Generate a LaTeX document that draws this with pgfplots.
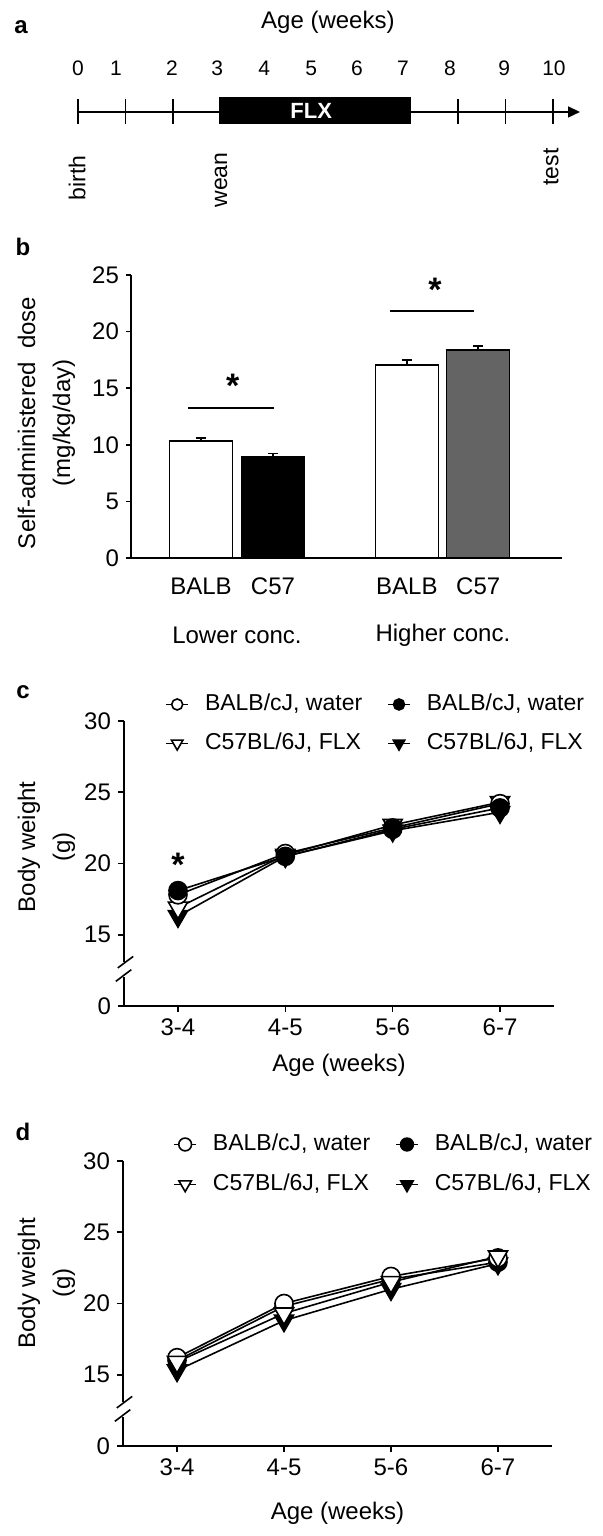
\documentclass[border=0pt]{standalone}
\usepackage{fontspec}
\setmainfont{Liberation Sans}
\usepackage{pgfplots}
\pgfplotsset{compat=1.18}
\usetikzlibrary{arrows.meta}
\definecolor{bargray}{RGB}{100,100,100}
\pgfplotsset{
  mylegend/.style={
    legend columns=2,
    legend style={draw=none, fill=none, inner sep=0pt, anchor=north west,
      cells={anchor=west}, nodes={inner sep=1pt, text height=8.5pt, text depth=2.5pt},
      font=\fontsize{11.5}{13}\selectfont,
      /tikz/every odd column/.append style={column sep=7pt},
      /tikz/every even column/.append style={column sep=11.5pt}},
    legend image code/.code={\draw[mark repeat=2,mark phase=2,##1] plot coordinates {(0pt,0pt)(5.5pt,0pt)(11pt,0pt)};}
  },
  lineaxis/.style={
    scale only axis, anchor=south west, clip=false,
    ymin=10, ymax=30, ytick={10,15,20,25,30}, yticklabels={0,15,20,25,30},
    xtick={1,2,3,4}, xticklabels={3-4,4-5,5-6,6-7},
    axis x line*=bottom, axis y line*=left,
    x axis line style={-, line width=0.8pt},
    y axis line style={draw=none},
    tick align=outside, major tick length=3pt,
    tick style={black, line width=0.8pt},
    tick label style={font=\fontsize{12}{14}\selectfont},
    /pgf/number format/assume math mode=true,
  }
}
\begin{document}
\begin{tikzpicture}
\path[use as bounding box] (0,0) rectangle (301pt,768pt);
\node[font=\fontsize{12}{12}\selectfont\bfseries] at (10.5pt,754.5pt) {a};
\node[font=\fontsize{12}{12}\selectfont\bfseries] at (11.5pt,644.5pt) {b};
\node[font=\fontsize{12}{12}\selectfont\bfseries] at (11.5pt,422pt) {c};
\node[font=\fontsize{12}{12}\selectfont\bfseries] at (11.5pt,202pt) {d};

% ---------------- panel a: timeline
\begin{axis}[at={(39pt,704.5pt)}, anchor=south west, scale only axis,
  width=251pt, height=15pt, xmin=0, xmax=10.568, ymin=-15, ymax=15,
  axis lines=none, clip=false]
\addplot[black, line width=0.8pt, -{Triangle[length=6pt,width=5.5pt]}] coordinates {(0,0) (10.568,0)};
\addplot[black, only marks, mark=|, mark size=6.25pt, mark options={line width=0.8pt}]
  coordinates {(0,0)(1,0)(2,0)(8,0)(9,0)(10,0)};
\addplot[fill=black, draw=black] coordinates {(2.97,-11)(7.0,-11)(7.0,15)(2.97,15)} --cycle;
\node[white, font=\fontsize{11}{12}\selectfont\bfseries] at (axis cs:4.91,1) {FLX};
\begin{scope}[every node/.style={font=\fontsize{10.5}{12}\selectfont}]
\node at (axis cs:0,44) {0};
\node at (axis cs:0.80,44) {1};
\node at (axis cs:1.98,44) {2};
\node at (axis cs:2.93,44) {3};
\node at (axis cs:3.92,44) {4};
\node at (axis cs:4.91,44) {5};
\node at (axis cs:5.87,44) {6};
\node at (axis cs:6.84,44) {7};
\node at (axis cs:7.83,44) {8};
\node at (axis cs:8.97,44) {9};
\node at (axis cs:10.02,44) {10};
\end{scope}
\node[font=\fontsize{12}{14}\selectfont] at (axis cs:5.26,90) {Age (weeks)};
\node[rotate=90, font=\fontsize{11.5}{13}\selectfont] at (axis cs:-0.02,-66) {birth};
\node[rotate=90, font=\fontsize{11.5}{13}\selectfont] at (axis cs:3.01,-68) {wean};
\node[rotate=90, font=\fontsize{11.5}{13}\selectfont] at (axis cs:9.96,-55) {test};
\end{axis}

% ---------------- panel b: bars
\begin{axis}[at={(65.5pt,489pt)}, anchor=south west, scale only axis,
  width=215.5pt, height=141.5pt, xmin=0.028, xmax=6.014, ymin=0, ymax=25,
  axis x line*=bottom, axis y line*=left, axis line style={-, line width=0.8pt},
  ytick={0,5,10,15,20,25}, xtick={1,2,3.86,4.85}, xticklabels={BALB,C57,BALB,C57},
  x tick style={draw=none}, tick align=outside, major tick length=2.5pt,
  y tick style={black, line width=0.8pt},
  tick label style={font=\fontsize{12}{14}\selectfont},
  xticklabel style={yshift=-4pt},
  /pgf/number format/assume math mode=true, clip=false]
\addplot[ybar, bar shift=0pt, bar width=31.5pt, fill=white, draw=black, line width=0.8pt,
  error bars/.cd, y dir=plus, y explicit, error bar style={line width=0.8pt},
  error mark options={rotate=90, mark size=2.5pt, line width=0.8pt}]
  coordinates {(1,10.34) +- (0,0.28)};
\addplot[ybar, bar shift=0pt, bar width=31.5pt, fill=black, draw=black, line width=0.8pt,
  error bars/.cd, y dir=plus, y explicit, error bar style={line width=0.8pt},
  error mark options={rotate=90, mark size=2.5pt, line width=0.8pt}]
  coordinates {(2,8.92) +- (0,0.30)};
\addplot[ybar, bar shift=0pt, bar width=31.5pt, fill=white, draw=black, line width=0.8pt,
  error bars/.cd, y dir=plus, y explicit, error bar style={line width=0.8pt},
  error mark options={rotate=90, mark size=2.5pt, line width=0.8pt}]
  coordinates {(3.86,17.05) +- (0,0.42)};
\addplot[ybar, bar shift=0pt, bar width=31.5pt, fill=bargray, draw=black, line width=0.8pt,
  error bars/.cd, y dir=plus, y explicit, error bar style={line width=0.8pt},
  error mark options={rotate=90, mark size=2.5pt, line width=0.8pt}]
  coordinates {(4.85,18.37) +- (0,0.35)};
\addplot[black, line width=0.8pt] coordinates {(0.82,13.25)(2.01,13.25)};
\addplot[black, line width=0.8pt] coordinates {(3.625,21.8)(4.79,21.8)};
\node[font=\fontsize{17}{17}\selectfont\bfseries, anchor=north, inner sep=0pt] at (axis cs:1.44,16.25) {*};
\node[font=\fontsize{17}{17}\selectfont\bfseries, anchor=north, inner sep=0pt] at (axis cs:4.25,24.8) {*};
\node[font=\fontsize{12}{14}\selectfont] at (axis cs:1.5,-6.8) {Lower conc.};
\node[font=\fontsize{12}{14}\selectfont] at (axis cs:4.36,-6.8) {Higher conc.};
\node[rotate=90, align=center, font=\fontsize{12}{17.5}\selectfont] at (axis cs:-1.146,11.93) {Self-administered\ \ dose\\(mg/kg/day)};
\end{axis}

% ---------------- panel c
\begin{axis}[lineaxis, mylegend, at={(62pt,265pt)}, width=215pt, height=142.5pt,
  xmin=0.497, xmax=4.503,
  legend style={at={(axis cs:0.879,32.1)}, row sep=6.5pt}]
\addlegendimage{black, line width=0.8pt, mark=*, mark size=2.75pt, mark options={fill=white}}
\addlegendentry{BALB/cJ, water}
\addlegendimage{black, line width=0.8pt, mark=*, mark size=2.75pt, mark options={fill=black}}
\addlegendentry{BALB/cJ, water}
\addlegendimage{black, line width=0.8pt, mark=triangle*, mark size=3.3pt, mark options={rotate=180, fill=white}}
\addlegendentry{C57BL/6J, FLX}
\addlegendimage{black, line width=0.8pt, mark=triangle*, mark size=3.3pt, mark options={rotate=180, fill=black}}
\addlegendentry{C57BL/6J, FLX}
\addplot[black, line width=0.8pt] coordinates {(0.497,30)(0.497,13.1)};
\addplot[black, line width=0.8pt] coordinates {(0.497,12.03)(0.497,10)};
\addplot[black, line width=0.8pt] coordinates {(0.439,12.67)(0.583,13.48)};
\addplot[black, line width=0.8pt] coordinates {(0.421,11.73)(0.565,12.55)};
\addplot[black, line width=0.8pt, mark=triangle*, mark size=5.5pt, mark options={rotate=180, fill=black}, forget plot]
  coordinates {(1,16.3)(2,20.5)(3,22.3)(4,23.6)};
\addplot[black, line width=0.8pt, mark=triangle*, mark size=5.5pt, mark options={rotate=180, fill=white}, forget plot]
  coordinates {(1,16.9)(2,20.6)(3,22.7)(4,24.3)};
\addplot[black, line width=0.8pt, mark=*, mark size=4.5pt, mark options={fill=white}, forget plot]
  coordinates {(1,17.8)(2,20.7)(3,22.5)(4,24.2)};
\addplot[black, line width=0.8pt, mark=*, mark size=4.5pt, mark options={fill=black}, forget plot]
  coordinates {(1,18.1)(2,20.5)(3,22.4)(4,23.9)};
\node[font=\fontsize{17}{17}\selectfont\bfseries, anchor=north, inner sep=0pt] at (axis cs:1,20.75) {*};
\node[font=\fontsize{12}{14}\selectfont] at (axis cs:2.5,5.86) {Age (weeks)};
\node[rotate=90, align=center, font=\fontsize{12}{17.5}\selectfont] at (axis cs:-0.225,21.16) {Body weight\\(g)};
\end{axis}

% ---------------- panel d
\begin{axis}[lineaxis, mylegend, at={(61.5pt,45pt)}, width=214.5pt, height=142.5pt,
  xmin=0.495, xmax=4.505,
  legend style={at={(axis cs:0.962,32.1)}, row sep=7pt}]
\addlegendimage{black, line width=0.8pt, mark=*, mark size=3.2pt, mark options={fill=white}}
\addlegendentry{BALB/cJ, water}
\addlegendimage{black, line width=0.8pt, mark=*, mark size=3.2pt, mark options={fill=black}}
\addlegendentry{BALB/cJ, water}
\addlegendimage{black, line width=0.8pt, mark=triangle*, mark size=3.6pt, mark options={rotate=180, fill=white}}
\addlegendentry{C57BL/6J, FLX}
\addlegendimage{black, line width=0.8pt, mark=triangle*, mark size=3.6pt, mark options={rotate=180, fill=black}}
\addlegendentry{C57BL/6J, FLX}
\addplot[black, line width=0.8pt] coordinates {(0.495,30)(0.495,13.1)};
\addplot[black, line width=0.8pt] coordinates {(0.495,12.03)(0.495,10)};
\addplot[black, line width=0.8pt] coordinates {(0.437,12.67)(0.581,13.48)};
\addplot[black, line width=0.8pt] coordinates {(0.419,11.73)(0.563,12.55)};
\addplot[black, line width=0.8pt, mark=triangle*, mark size=5.5pt, mark options={rotate=180, fill=black}, forget plot]
  coordinates {(1,15.3)(2,18.8)(3,21.0)(4,22.8)};
\addplot[black, line width=0.8pt, mark=*, mark size=4.5pt, mark options={fill=black}, forget plot]
  coordinates {(1,16.0)(2,19.8)(3,21.7)(4,22.9)};
\addplot[black, line width=0.8pt, mark=*, mark size=4.5pt, mark options={fill=white}, forget plot]
  coordinates {(1,16.2)(2,20.0)(3,21.9)(4,23.2)};
\addplot[black, line width=0.8pt, mark=triangle*, mark size=5.5pt, mark options={rotate=180, fill=white}, forget plot]
  coordinates {(1,15.9)(2,19.3)(3,21.5)(4,23.3)};
\node[font=\fontsize{12}{14}\selectfont] at (axis cs:2.5,5.3) {Age (weeks)};
\node[rotate=90, align=center, font=\fontsize{12}{17.5}\selectfont] at (axis cs:-0.220,21.44) {Body weight\\(g)};
\end{axis}
\end{tikzpicture}
\end{document}
